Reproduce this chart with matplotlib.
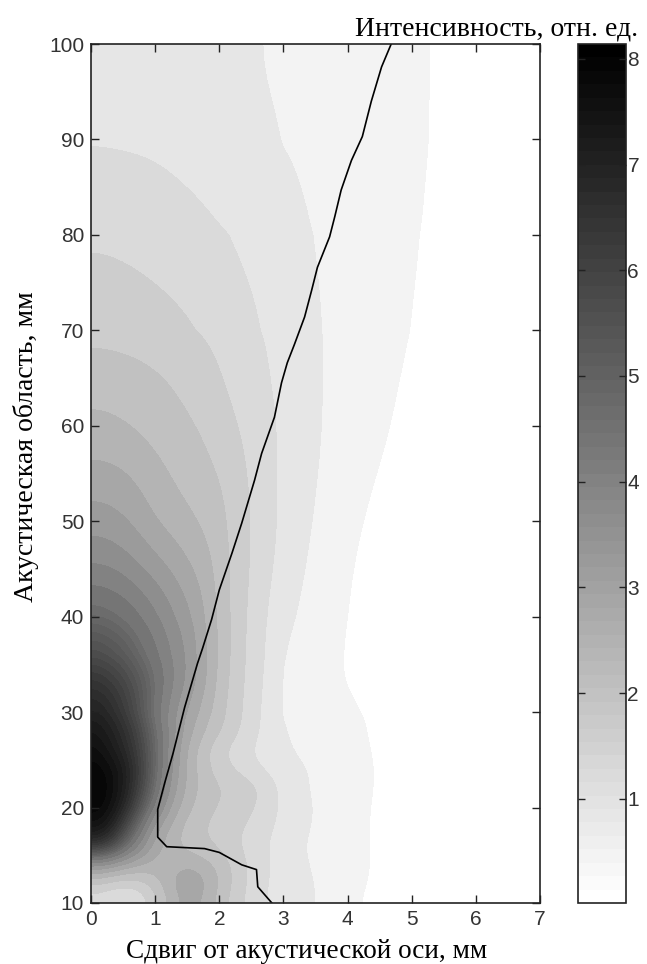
import numpy as np
import matplotlib
matplotlib.use('Agg')
import matplotlib.pyplot as plt
from matplotlib.cm import ScalarMappable
from matplotlib.colors import Normalize

# интенсивность
x_mm = [0, .25, .5, .75, 1, 1.25, 1.5, 1.75, 2, 2.25, 2.5, 2.75, 3, 3.5, 4, 4.5, 5, 5.5, 7]
z_mm = [10, 12, 14, 16, 18, 20, 22, 24, 26, 28, 30, 33, 36, 40, 45, 50, 55, 60, 65, 70, 80, 85, 90, 100]
intensity = [
    [1.0, .8, .7, .9, 1.5, 2.3, 2.7, 2.5, 1.95, 1.55, 1.2, .98, .78, .65, .22, .1, .04, .02, .01],
    [1.8, 1.6, 1.4, 1.5, 2.0, 2.6, 3.05, 2.8, 2.2, 1.7, 1.25, 1.0, .8, .62, .3, .12, .05, .02, .01],
    [3.2, 3.1, 2.8, 2.6, 2.4, 2.4, 2.6, 2.4, 2.1, 1.7, 1.3, 1.05, .8, .55, .3, .15, .05, .02, .01],
    [6.8, 6.3, 5.0, 3.7, 2.8, 2.3, 2.0, 1.85, 1.7, 1.45, 1.2, 1.0, .78, .5, .3, .14, .05, .02, .01],
    [7.6, 7.4, 6.1, 4.5, 3.0, 2.5, 2.0, 1.8, 1.65, 1.5, 1.3, 1.1, .85, .55, .3, .14, .05, .02, .01],
    [8.05, 7.8, 7.0, 5.6, 4.0, 2.9, 2.3, 1.95, 1.75, 1.65, 1.45, 1.2, .92, .56, .3, .15, .06, .03, .01],
    [8.14, 7.9, 7.3, 6.1, 4.6, 3.2, 2.5, 2.05, 1.85, 1.75, 1.6, 1.25, .88, .5, .3, .17, .07, .03, .01],
    [8.0, 7.8, 7.3, 6.3, 4.8, 3.4, 2.5, 1.95, 1.6, 1.35, 1.12, .9, .78, .55, .31, .17, .07, .03, .01],
    [7.8, 7.4, 6.9, 6.1, 4.8, 3.5, 2.5, 1.9, 1.45, 1.2, .97, .8, .68, .42, .29, .16, .06, .03, .01],
    [7.5, 7.2, 6.7, 5.9, 4.7, 3.6, 2.8, 2.25, 1.85, 1.5, 1.15, .85, .65, .37, .27, .15, .06, .03, .01],
    [7.15, 6.9, 6.3, 5.5, 4.3, 3.5, 2.9, 2.4, 1.95, 1.55, 1.18, .85, .55, .35, .26, .14, .06, .03, .01],
    [6.6, 6.4, 6.0, 5.4, 4.7, 3.95, 3.35, 2.75, 2.05, 1.6, 1.22, .9, .57, .33, .17, .08, .04, .02, .01],
    [5.8, 5.6, 5.3, 4.8, 4.3, 3.8, 3.4, 2.75, 2.12, 1.65, 1.25, .95, .58, .35, .15, .08, .04, .02, .01],
    [4.9, 4.8, 4.6, 4.3, 3.95, 3.55, 3.15, 2.7, 2.08, 1.65, 1.27, .97, .72, .4, .17, .08, .04, .02, .01],
    [3.82, 3.78, 3.65, 3.42, 3.2, 2.95, 2.68, 2.44, 2.05, 1.65, 1.37, 1.07, .87, .46, .19, .1, .05, .03, .01],
    [3.2, 3.16, 3.02, 2.82, 2.55, 2.4, 2.27, 2.12, 1.95, 1.63, 1.4, 1.12, .95, .55, .25, .12, .06, .03, .01],
    [2.72, 2.7, 2.64, 2.5, 2.34, 2.18, 2.04, 1.92, 1.78, 1.6, 1.33, 1.1, .93, .62, .33, .17, .09, .05, .02],
    [2.3, 2.28, 2.2, 2.12, 2.03, 1.94, 1.85, 1.75, 1.58, 1.42, 1.25, 1.08, .97, .63, .42, .23, .12, .06, .02],
    [2.0, 1.98, 1.96, 1.92, 1.86, 1.78, 1.68, 1.56, 1.42, 1.28, 1.17, 1.02, .88, .63, .45, .27, .15, .08, .03],
    [1.7, 1.69, 1.66, 1.62, 1.57, 1.52, 1.46, 1.4, 1.3, 1.2, 1.1, .97, .86, .64, .47, .32, .18, .1, .04],
    [1.3, 1.29, 1.27, 1.24, 1.21, 1.17, 1.13, 1.07, 1.0, .94, .87, .8, .72, .58, .45, .35, .22, .14, .05],
    [1.14, 1.13, 1.12, 1.1, 1.07, 1.03, .99, .95, .9, .85, .79, .73, .67, .55, .43, .34, .23, .15, .05],
    [.99, .985, .97, .96, .94, .92, .89, .86, .82, .78, .73, .67, .6, .5, .41, .33, .24, .17, .06],
    [.76, .75, .75, .74, .73, .72, .71, .70, .67, .63, .58, .53, .49, .43, .37, .31, .24, .17, .06],
]
levels = [-.2, .2, .6, 1.0, 1.4, 1.8, 2.2, 2.6, 3.0, 3.4, 3.8, 4.2, 4.6, 4.8, 5.0, 5.2, 5.4, 5.6, 5.8, 6.0,
          6.2, 6.4, 6.6, 6.8, 7.0, 7.2, 7.4, 7.6, 7.8, 8.0, 8.2]

# черная кривая
line_x = [4.68, 4.53, 4.37, 4.23, 4.06, 3.9, 3.8, 3.72, 3.53, 3.44, 3.33, 3.17, 3.06, 2.97, 2.86, 2.66, 2.55,
          2.35, 2.2, 2.0, 1.88, 1.74, 1.66, 1.46, 1.28, 1.15, 1.04, 1.04, 1.18, 1.77, 2.0, 2.35, 2.58, 2.6, 2.82]
line_z = [100, 97.6, 94, 90.3, 87.8, 84.7, 81.9, 79.8, 76.6, 74.2, 71.4, 68.5, 66.6, 64.5, 60.9, 57.1, 54.3,
          49.8, 46.7, 42.8, 39.7, 36.7, 35.1, 30.5, 25.7, 22.6, 19.8, 16.9, 15.9, 15.7, 15.3, 14, 13.5, 11.7, 10]

W, H = 647, 964
serif = 'Liberation Serif'
sans = 'Liberation Sans'
tick_col = '#333333'


def smooth_axis(a, sub=8, sigma=4.0):
    # сглаживание таблицы вдоль оси 0, чтобы контуры не были ломаными
    n = a.shape[0]
    idx = np.arange(n)
    fine = np.linspace(0, n-1, (n-1)*sub+1)
    up = np.array([np.interp(fine, idx, a[:, j]) for j in range(a.shape[1])]).T
    k = np.exp(-.5*(np.arange(-16, 17)/sigma)**2)
    k = k/k.sum()
    pad = np.pad(up, ((16, 16), (0, 0)), mode='reflect')
    return np.array([np.convolve(pad[:, j], k, mode='valid') for j in range(a.shape[1])]).T


def fine_coord(v, sub=8):
    return np.interp(np.linspace(0, len(v)-1, (len(v)-1)*sub+1), np.arange(len(v)), v)


field = smooth_axis(np.array(intensity))
field = smooth_axis(field.T).T
xx = fine_coord(x_mm)
zz = fine_coord(z_mm)

fig = plt.figure(figsize=(W/100, H/100), dpi=100)
ax = fig.add_axes([91/W, 1-903/H, (540-91)/W, (903-44)/H])
cs = ax.contourf(xx, zz, field, levels=levels, cmap='gray_r', vmin=0, vmax=8.14)
ax.plot(line_x, line_z, color='black', lw=1.2)
ax.set_xlim(0, 7)
ax.set_ylim(10, 100)
ax.set_xticks(range(0, 8))
ax.set_yticks(range(10, 101, 10))
ax.tick_params(direction='in', top=True, right=True, length=6, width=1, color='#222222',
               labelsize=15, labelcolor=tick_col, pad=5)
for lab in ax.get_xticklabels() + ax.get_yticklabels():
    lab.set_family(sans)
for s in ax.spines.values():
    s.set_linewidth(1.2)
    s.set_color('#222222')

# шкала
cax = fig.add_axes([578/W, 1-903/H, (626-578)/W, (903-44)/H])
sm = ScalarMappable(Normalize(.015, 8.14), plt.get_cmap('gray_r', 64))
cb = fig.colorbar(sm, cax=cax)
cb.set_ticks(range(1, 9))
cax.tick_params(direction='in', left=True, right=True, length=5, width=1, color='#222222',
                labelsize=15, labelcolor=tick_col, pad=1)
for lab in cax.get_yticklabels():
    lab.set_family(sans)
cb.outline.set_linewidth(1.2)
cb.outline.set_edgecolor('#222222')

fig.text(307/W, 1-952/H, 'Сдвиг от акустической оси, мм', family=serif, fontsize=19.6,
         ha='center', va='center')
fig.text(26/W, 1-447/H, 'Акустическая область, мм', family=serif, fontsize=20,
         rotation=90, ha='center', va='center')
fig.text(497/W, 1-29/H, 'Интенсивность, отн. ед.', family=serif, fontsize=20,
         ha='center', va='center')

fig.savefig('out.png', dpi=100)
